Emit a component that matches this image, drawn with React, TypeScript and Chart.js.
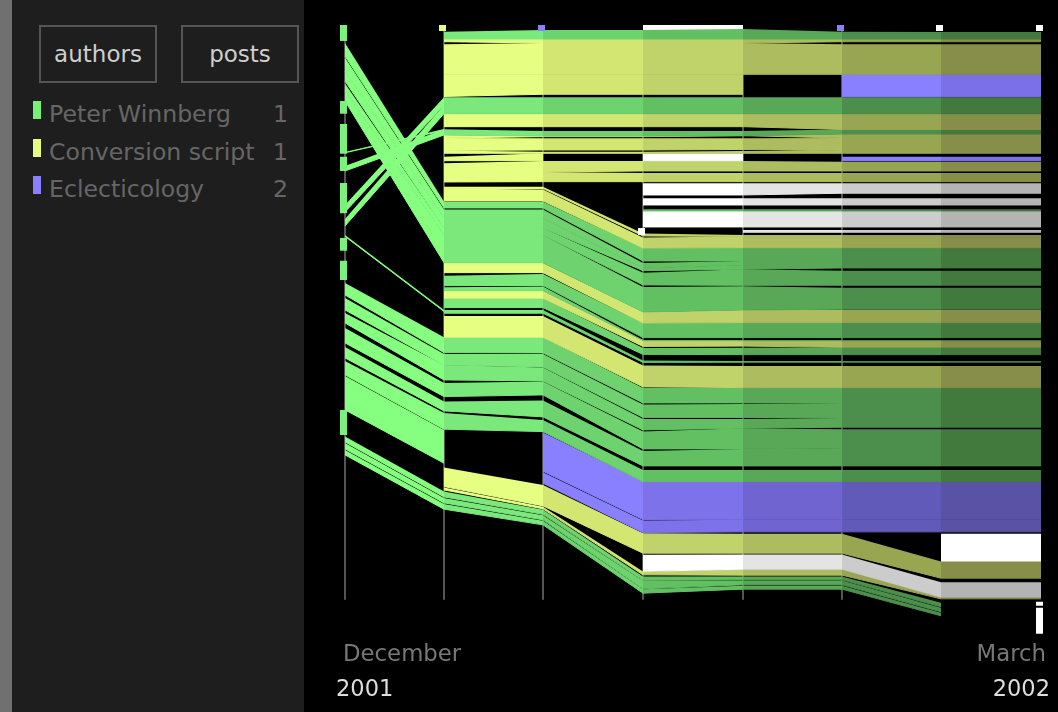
import React, { useEffect, useRef } from "react";
import { Chart, registerables } from "chart.js";

Chart.register(...registerables);

const n = null;
// position of each revision along the time axis
const revisions = [9, 108, 207, 307, 407, 506, 605, 705];
const timeMin = 0;
const timeMax = 714;
const monthLabels = ["December", "March"];
const monthAnchors = [7, 710];
const yearLabels = ["2001", "2002"];
const yearAnchors = [0, 714];
const authors = [
  { name: "Peter Winnberg", posts: 1, color: "#78f078" },
  { name: "Conversion script", posts: 1, color: "#e6ff82" },
  { name: "Eclecticology", posts: 2, color: "#8880ff" },
];

// colour of a strip in each interval between two revisions (older text fades)
const palette: Record<string, (string | null)[]> = {
  G: ["#86ff80", "#7ae87a", "#6ed36e", "#62bf62", "#58a858", "#4c8f4c", "#427a3e"],
  Y: [n, "#e6ff82", "#d4e672", "#c0d26a", "#acbc5e", "#98a652", "#868e4a"],
  B2: [n, n, "#8880ff", "#7e72ea", "#7064d0", "#625ab8", "#5a52a4"],
  B5: [n, n, n, n, n, "#8880ff", "#7c70e8"],
  W3: [n, n, n, "#ffffff", "#e4e4e4", "#cccccc", "#b4b4b4"],
  W6: [n, n, n, n, n, n, "#ffffff"],
};

type Strip = [string, (number | null)[], (number | null)[]];

const stripsUpper: Strip[] = [
  ["G", [n, 31.7, 30, 30, 29, 31.7, 32, 32], [n, 39, 39, 39, 39, 39, 39, 39]],
  ["W3", [n, n, n, 24.5, 24.5, n, n, n], [n, n, n, 29.5, 29.5, n, n, n]],
  ["Y", [n, 39, 39, 39, 39, 39, 39, 39], [n, 41.7, 43, 43, 43, 41.7, 41.7, 41.7]],
  ["Y", [n, 44.3, 43, 43, 43, 44.3, 44.3, 44.3], [n, 74.3, 74.3, 74.3, 74.3, 74.3, 74.3, 74.3]],
  ["Y", [n, 74.3, 74.3, 74.3, 74.3, n, n, n], [n, 96.5, 94.3, 94.3, 94.3, n, n, n]],
  ["B5", [n, n, n, n, n, 74.3, 74.3, 74.3], [n, n, n, n, n, 96.7, 96.7, 96.7]],
  ["G", [205, 97.3, 97.3, 97.3, 97.3, 97.3, 97.3, 97.3], [212, 105, 105, 105, 105, 105, 105, 105]],
  ["G", [219, 105, 105, 105, 105, 105, 105, 105], [226, 113.7, 113.7, 113.7, 113.7, 113.7, 113.7, 113.7]],
  ["Y", [n, 114, 114, 114, 114, 114, 114, 114], [n, 126.7, 126.7, 126.7, 126.7, 129.5, 129.5, 129.5]],
  ["G", [152, 129, n, n, n, n, n, n], [152.8, 130.5, n, n, n, n, n, n]],
  ["G", [166, 129.3, 131, 131, 131, 129.5, 129.5, 129.5], [171, 135, 136, 136, 135.7, 134, 134, 134]],
  ["Y", [n, 135, 136, 136, 135.7, 134, 134, 134], [n, 138, 136.7, 136.7, 135.7, 138, 138, 138]],
  ["Y", [n, 138, 138.3, 138.3, 138.3, 138, 138, 138], [n, 150.5, 150, 150, 149.5, 151, 151, 151]],
  ["Y", [n, 150.5, 151.7, 151.7, 151, 151, 151, 151], [n, 153.3, 153.3, 153.3, 153.3, 153.3, 153.3, 153.3]],
  ["Y", [n, 156.7, 153.3, n, n, n, n, n], [n, 160.7, 160.7, n, n, n, n, n]],
  ["W3", [n, n, n, 153.3, 153.3, n, n, n], [n, n, n, 160.7, 160.7, n, n, n]],
  ["B5", [n, n, n, n, n, 156.7, 156.7, 156.7], [n, n, n, n, n, 160.7, 160.7, 160.7]],
  ["Y", [n, 163.3, 161, 161, 161, 161.7, 161.7, 161.7], [n, 172, 172, 171, 171, 171, 171, 171]],
  ["Y", [n, 172, 172, 173, 173, 173, 173, 173], [n, 182, 181.7, 181.7, 181.7, 181.7, 181.7, 181.7]],
  ["W3", [n, n, n, 183.3, 183.3, 183.3, 183.3, 183.3], [n, n, n, 195, 195, 193.3, 193.3, 193.3]],
  ["W3", [n, n, n, 198.3, 198.3, 198.3, 198.3, 198.3], [n, n, n, 205, 205, 205, 205, 205]],
  ["G", [n, n, n, 209.3, 209.3, 209.3, 209.3, 209.3], [n, n, n, 211, 211, 211, 211, 211]],
  ["W3", [n, n, n, 211, 211, 211, 211, 211], [n, n, n, 227, 227, 227, 227, 227]],
  ["W3", [n, n, n, n, 230, 230, 230, 230], [n, n, n, n, 232.3, 232.3, 232.3, 232.3]],
];

const stripsMiddle: Strip[] = [
  ["Y", [n, 186.7, 186.7, 233.5, 235, 235, 235, 235], [n, 188.5, 188.5, 236, 236.5, 236.5, 236.5, 236.5]],
  ["Y", [n, 188.5, 189.5, 237.5, 236.5, 236.5, 236.5, 236.5], [n, 201, 201, 248, 247.7, 247.7, 247.7, 247.7]],
  ["G", [43, 201.7, 201.7, 248, 248, 248, 248, 248], [56, 208, 208, 261, 261, 261, 261, 261]],
  ["G", [57.5, 209.5, 209.5, 263, 261, 261, 261, 261], [71, 218, 218, 268, 265, 265, 265, 265]],
  ["G", [71, 218, 218, 268, 265, 265, 265, 265], [81, 228, 228, 270.7, 269.3, 268, 268, 268]],
  ["G", [83.5, 228, 228, 272.7, 269.3, 270.7, 270.7, 270.7], [90, 235, 235, 285, 285.4, 285.3, 285.3, 285.3]],
  ["G", [90, 235, 235, 287, 286.2, 287.7, 287.7, 287.7], [101, 262.7, 262.7, 312, 310, 309.3, 309.3, 309.3]],
  ["Y", [n, 263, 263, 312, 310, 310, 310, 310], [n, 272.7, 272.7, 323, 322.7, 322.7, 322.7, 322.7]],
  ["G", [n, 275.7, 274, 323, 322.7, 322.7, 322.7, 322.7], [n, 285.7, 285.5, 337.7, 337.7, 337.7, 337.7, 337.7]],
  ["G", [n, 287.3, 286.5, 340, 340, 340, 340, 340], [n, 290.7, 290.7, 340.7, 340.7, 340.7, 340.7, 340.7]],
  ["Y", [n, 290.7, 290.7, 340.7, 340.7, 340.7, 340.7, 340.7], [n, 298.3, 298.3, 346.5, 346.2, 347.3, 347.3, 347.3]],
  ["G", [n, 298.3, 298.3, 348, 347.8, 347.3, 347.3, 347.3], [n, 307.7, 307.7, 354.5, 354.7, 354.7, 354.7, 354.7]],
  ["G", [235, 310, n, n, n, n, n, n], [236.5, 311.5, n, n, n, n, n, n]],
  ["G", [n, 310, 310, 360.5, 361, 361, 361, 361], [n, 313.3, 313.3, 362.5, 362.3, 362.3, 362.3, 362.3]],
  ["Y", [n, 316, 316, 365.5, 366, 366, 366, 366], [n, 337.3, 337.3, 387, 387.7, 387.7, 387.7, 387.7]],
  ["G", [283, 337.3, 337.3, 388, 388, 387.7, 387.7, 387.7], [295, 352.7, 353, 403, 403, 403, 403, 403]],
  ["G", [298, 354.2, 354.2, 404.5, 404, 403, 403, 403], [310, 365, 367, 417.5, 417.5, 418, 418, 418]],
  ["G", [313, 365, 367.7, 419, 419, 418, 418, 418], [323, 380, 381, 430, 428.3, 427.3, 427.3, 427.3]],
  ["G", [328, 383, 381.7, 431.7, 428.3, 429.3, 429.3, 429.3], [343, 396.7, 395, 449, 449, 448, 448, 448]],
  ["G", [347, 401.7, 400.5, 451, 449, 448, 448, 448], [358, 411, 417, 466, 466, 466, 466, 466]],
  ["G", [361, 413, 420, 470, 470, 470, 470, 470], [375, 429.3, 431.7, 481.7, 481.7, 481.7, 481.7, 481.7]],
  ["G", [376, 430, n, n, n, n, n, n], [410, 463.3, n, n, n, n, n, n]],
];

const stripsLower: Strip[] = [
  ["B2", [n, n, 432.7, 481.7, 481.7, 481.7, 481.7, 481.7], [n, n, 471.3, 519.7, 520, 520, 520, 520]],
  ["B2", [n, n, 472.3, 520.6, 520, 520, 520, 520], [n, n, 483.3, 532.7, 532, 532, 532, 532]],
  ["Y", [n, 467.7, 485, 533.3, 534, 534, 561.7, 561.7], [n, 486.7, 506, 553.3, 553.3, 553.3, 578.3, 578.3]],
  ["W6", [n, n, n, n, n, n, 534, 534], [n, n, n, n, n, n, 561.7, 561.7]],
  ["W3", [n, n, n, 555, 554.7, 554.7, 582.3, 582.3], [n, n, n, 571.5, 569.3, 569.3, 597.3, 597.3]],
  ["Y", [n, 487.5, 507, 571.7, 569.5, 569.5, 597.3, 597.3], [n, 490, 509, 575, 575.3, 575.3, 599, 599]],
  ["G", [436.7, 491.7, 510, 576.7, 576.7, 576.7, 603, n], [442, 497, 514.5, 580.5, 580, 580, 607, n]],
  ["G", [443, 498, 515.5, 581, 580.7, 580.7, 608, n], [449, 503, 520, 589, 585, 585, 612, n]],
  ["G", [450, 504, 521, 589.5, 586, 586, 613, n], [455, 509.3, 525, 593.3, 589.3, 589.3, 616, n]],
];

const strips: Strip[] = [...stripsUpper, ...stripsMiddle, ...stripsLower];

// edit markers drawn on the revision columns: column, top, bottom, colour key
const markerColumn = [0, 0, 0, 0, 0, 0, 0, 0, 1, 2, 3, 5, 6, 7, 7, 7];
const markerTop = [24.5, 101, 124, 156.7, 183, 238, 260.7, 410, 25, 25, 228, 25, 25, 25, 602, 608];
const markerBottom = [41, 113.7, 153.7, 171, 213.3, 250.7, 280, 435, 31, 31, 235, 31, 31, 31, 606, 634];
const markerColor = ["#7cf07c", "#7cf07c", "#7cf07c", "#7cf07c", "#7cf07c", "#7cf07c", "#7cf07c", "#7cf07c",
  "#e6ff82", "#8880ff", "#ffffff", "#8880ff", "#ffffff", "#ffffff", "#ffffff", "#ffffff"];

const gridTop = 30;
const gridBottom = 600;
const gridColumns = [0, 1, 2, 3, 4, 5];

function buildDatasets() {
  const sets: any[] = [];
  strips.forEach(([kind, tops, bottoms]) => {
    const colors = palette[kind];
    const first = sets.length;
    const paint = (c: any) => colors[c.p0DataIndex] || "rgba(0,0,0,0)";
    sets.push({
      data: revisions.map((x, i) => ({ x, y: tops[i] })),
      borderWidth: 0, pointRadius: 0, tension: 0, order: 1,
      backgroundColor: colors.find(Boolean),
      fill: first + 1,
      segment: { backgroundColor: paint },
    });
    sets.push({
      data: revisions.map((x, i) => ({ x, y: bottoms[i] })),
      borderWidth: 1, pointRadius: 0, tension: 0, order: 1, fill: false,
      borderColor: colors.find(Boolean),
      segment: { borderColor: paint },
    });
  });
  gridColumns.forEach((c) => {
    sets.push({
      data: [{ x: revisions[c], y: gridTop }, { x: revisions[c], y: gridBottom }],
      borderColor: "#555555", borderWidth: 2, pointRadius: 0, order: 5, fill: false,
    });
  });
  markerColumn.forEach((col, i) => {
    sets.push({
      data: [{ x: revisions[col] - 1.5, y: markerTop[i] }, { x: revisions[col] - 1.5, y: markerBottom[i] }],
      borderColor: markerColor[i], borderWidth: 7, pointRadius: 0, order: 0, fill: false,
    });
  });
  return sets;
}

export default function App() {
  const ref = useRef<HTMLCanvasElement>(null);
  useEffect(() => {
    const chart = new Chart(ref.current!, {
      type: "line",
      data: { datasets: buildDatasets() },
      options: {
        animation: false,
        responsive: false,
        devicePixelRatio: 1,
        layout: { padding: { left: 336, right: 8, top: 25, bottom: 0 } },
        plugins: { legend: { display: false }, tooltip: { enabled: false } },
        scales: {
          x: {
            type: "linear", position: "bottom", weight: 0,
            min: timeMin, max: timeMax,
            grid: { display: false, drawTicks: false }, border: { display: false },
            afterBuildTicks: (a: any) => { a.ticks = monthAnchors.map((value) => ({ value })); },
            ticks: {
              autoSkip: false, maxRotation: 0, align: "inner", padding: 0,
              color: "#777777", font: { family: "'DejaVu Sans'", size: 22.8 },
              callback: (_: any, i: number) => monthLabels[i],
            },
          },
          xYear: {
            type: "linear", axis: "x", position: "bottom", weight: 1,
            min: timeMin, max: timeMax,
            grid: { display: false, drawTicks: false }, border: { display: false },
            afterBuildTicks: (a: any) => { a.ticks = yearAnchors.map((value) => ({ value })); },
            ticks: {
              autoSkip: false, maxRotation: 0, align: "inner", padding: 8,
              color: "#dddddd", font: { family: "'DejaVu Sans'", size: 22.5 },
              callback: (_: any, i: number) => yearLabels[i],
            },
          },
          y: { type: "linear", reverse: true, min: 25, max: 641.8, display: false },
        },
      } as any,
    });
    return () => chart.destroy();
  }, []);

  const box = (left: number, text: string) => (
    <div style={{
      position: "absolute", left, top: 25, width: 114, height: 54, border: "2px solid #555",
      color: "#cfcfcf", fontSize: 23, textAlign: "center", lineHeight: "54px",
    }}>{text}</div>
  );

  return (
    <div style={{ position: "fixed", left: 0, top: 0, width: 1058, height: 712, background: "#000", overflow: "hidden", fontFamily: "'DejaVu Sans'", filter: "blur(0.7px)" }}>
      <div style={{ position: "absolute", left: 0, top: 0, width: 12, height: 712, background: "#707070" }} />
      <div style={{ position: "absolute", left: 12, top: 0, width: 292, height: 712, background: "#1e1e1e" }} />
      {box(39, "authors")}
      {box(181, "posts")}
      {authors.map((a, i) => (
        <React.Fragment key={a.name}>
          <div style={{ position: "absolute", left: 33, top: 101 + i * 37.5, width: 8, height: 18, background: a.color }} />
          <div style={{ position: "absolute", left: 49, top: 97 + i * 37.5, color: "#666", fontSize: 23.6, lineHeight: "34px", whiteSpace: "nowrap" }}>{a.name}</div>
          <div style={{ position: "absolute", right: 1058 - 288, top: 97 + i * 37.5, color: "#666", fontSize: 23.6, lineHeight: "34px" }}>{a.posts}</div>
        </React.Fragment>
      ))}
      <canvas ref={ref} width={1058} height={712} style={{ position: "absolute", left: 0, top: 0, display: "block" }} />
    </div>
  );
}
